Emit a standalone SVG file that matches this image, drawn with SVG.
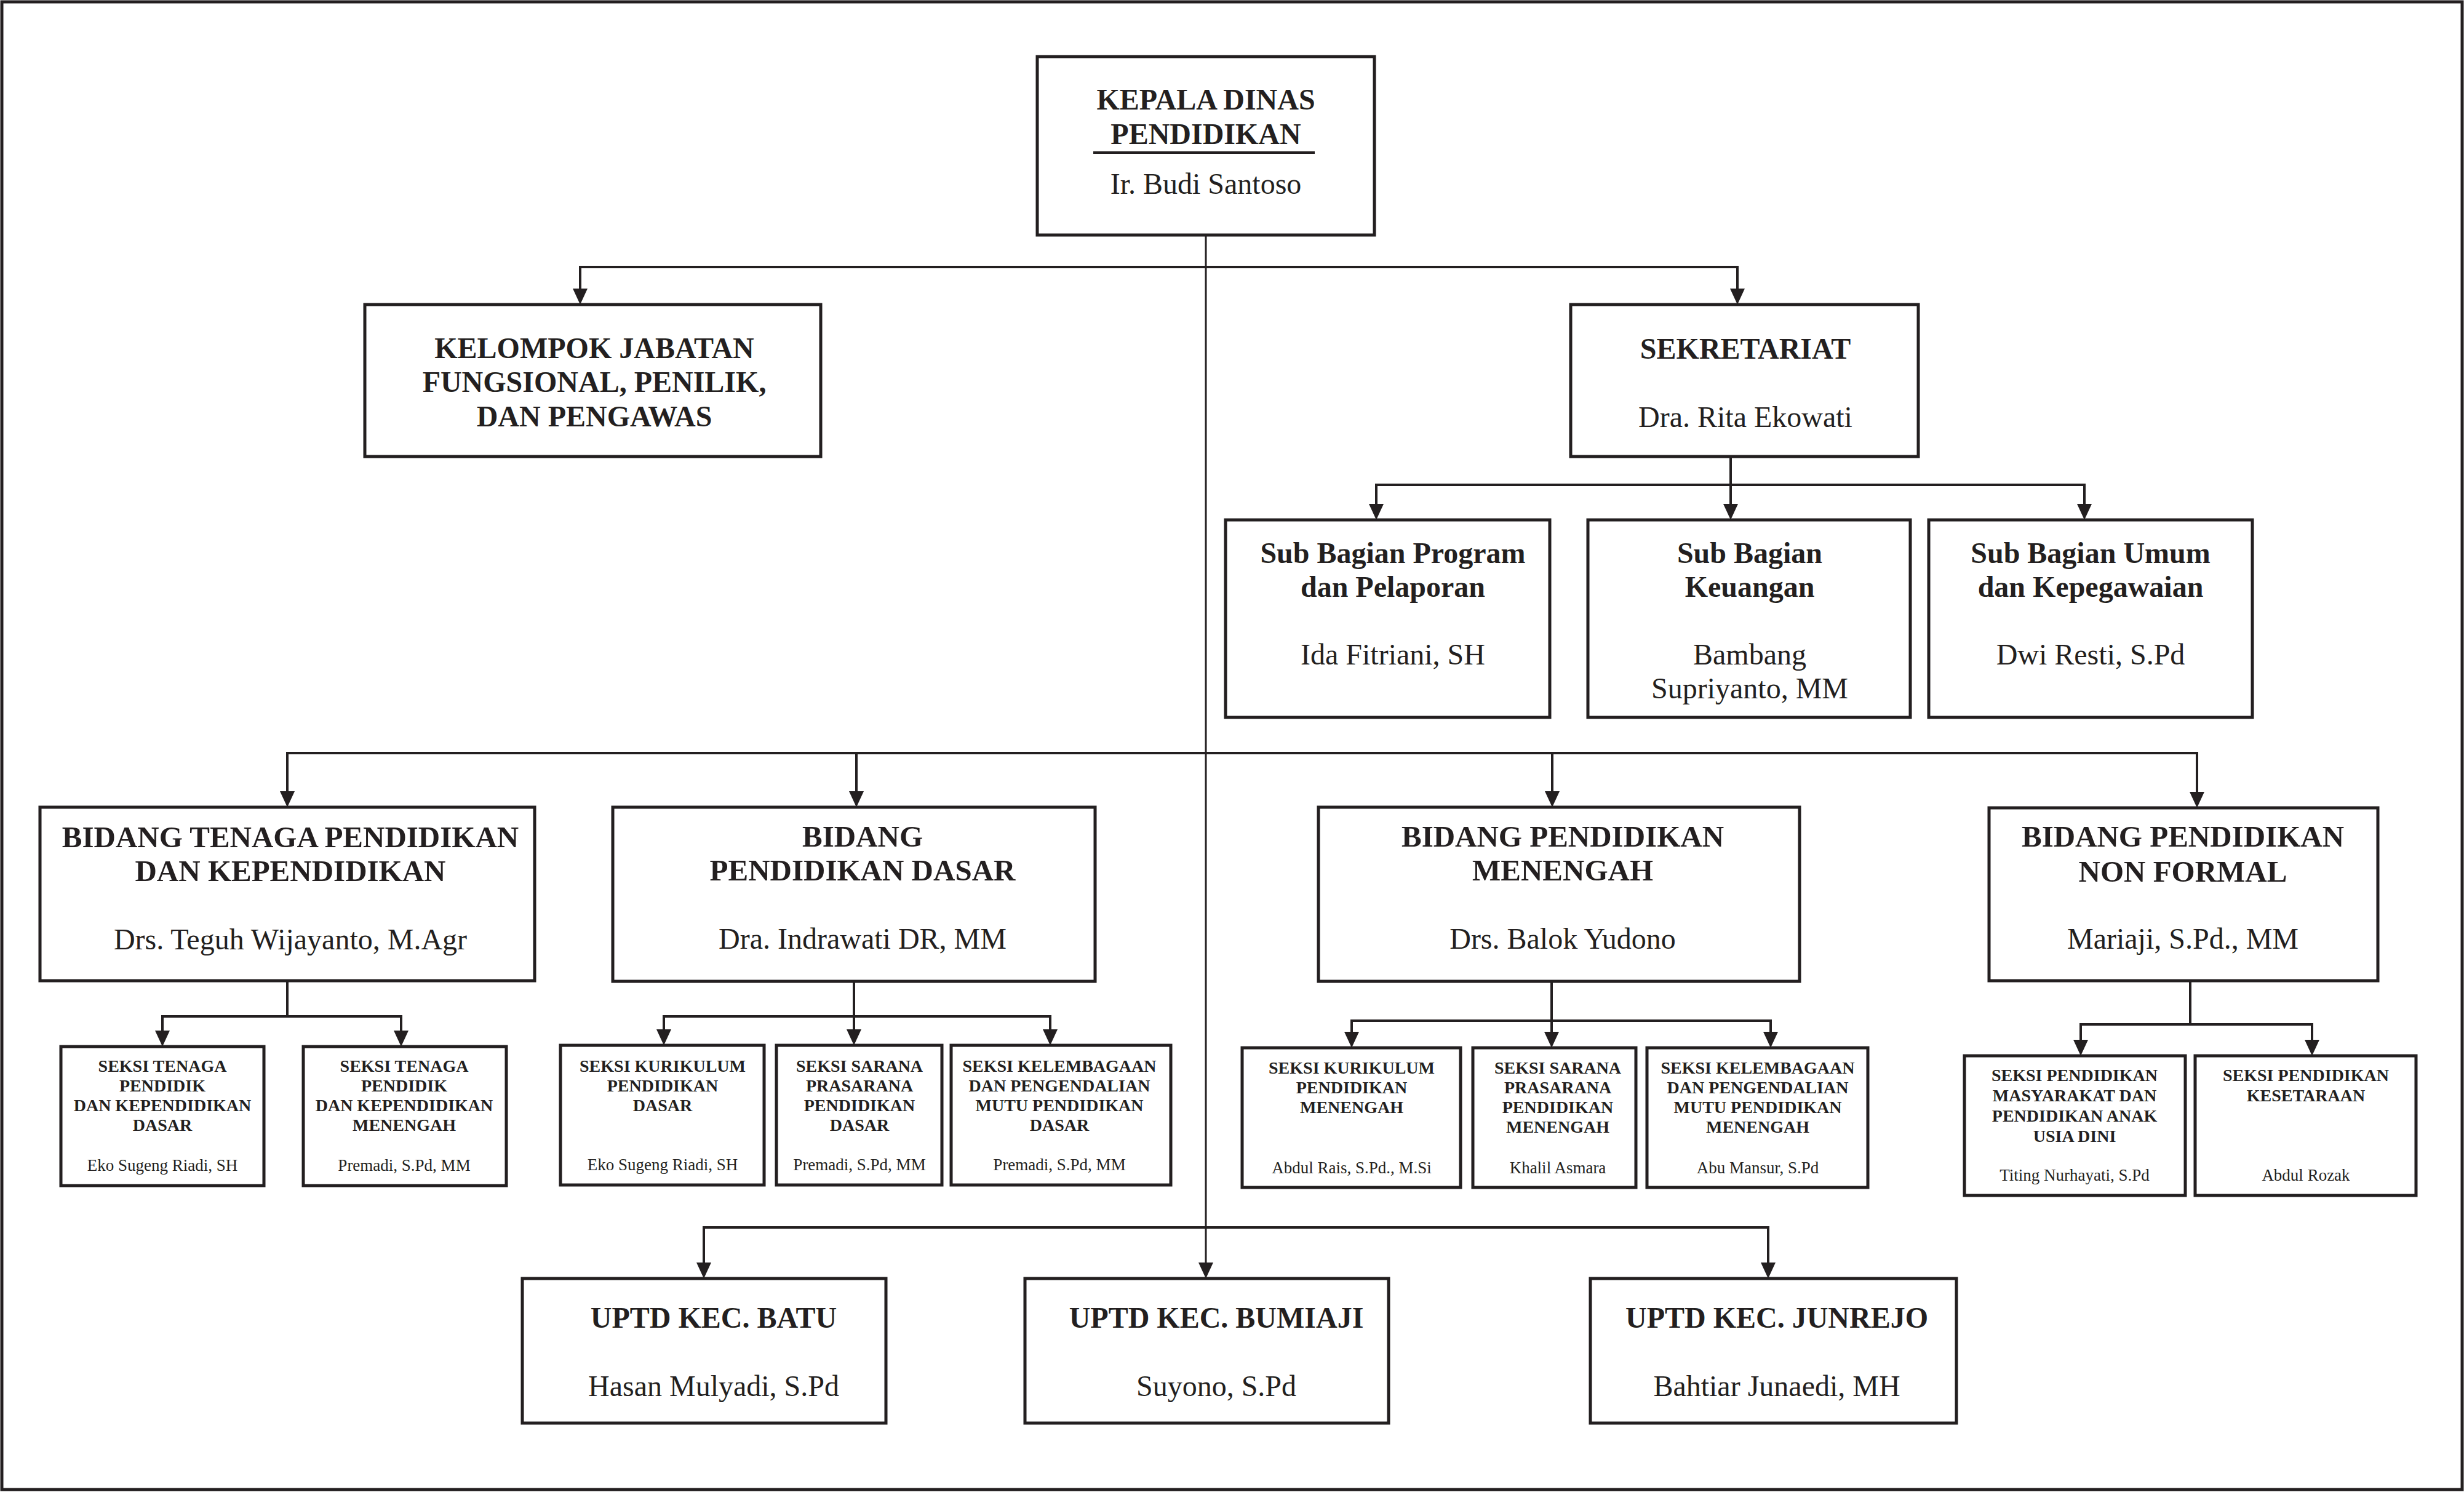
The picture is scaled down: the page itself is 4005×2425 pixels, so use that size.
<svg xmlns="http://www.w3.org/2000/svg" width="4005" height="2425" viewBox="0 0 4005 2425">
<defs>
<style>
text{font-family:"Liberation Serif","Times New Roman",serif;fill:#231f20;text-anchor:middle}
.b{font-weight:bold}
.h48{font-size:48px}
.h49{font-size:49px}
.s28{font-size:28px}
.s27{font-size:27px}
.box{fill:#fff;stroke:#231f20;stroke-width:5}
.con{fill:none;stroke:#231f20;stroke-width:4}
.main{fill:none;stroke:#231f20;stroke-width:3}
</style>
<marker id="arr" viewBox="0 0 26 24" refX="0" refY="12" markerWidth="26" markerHeight="24" markerUnits="userSpaceOnUse" orient="auto">
<path d="M0,0 L26,12 L0,24 z" fill="#231f20"/>
</marker>
</defs>
<rect x="0" y="0" width="4005" height="2425" fill="#fff"/>
<rect id="frame" x="3" y="3" width="3999" height="2418" fill="none" stroke="#231f20" stroke-width="5"/>

<g id="connectors">
<path class="main" d="M1960,382 V2052" marker-end="url(#arr)"/>
<path class="con" d="M943,469 V434 H2824 V469" marker-end="url(#arr)"/>
<path class="con" d="M943,434 V469" marker-end="url(#arr)"/>
<path class="con" d="M2813,742 V819" marker-end="url(#arr)"/>
<path class="con" d="M2237,819 V788 H3388 V819" marker-end="url(#arr)"/>
<path class="con" d="M2237,788 V819" marker-end="url(#arr)"/>
<path class="con" d="M467,1286 V1224 H3571 V1287" marker-end="url(#arr)"/>
<path class="con" d="M467,1224 V1286" marker-end="url(#arr)"/>
<path class="con" d="M1392,1224 V1286" marker-end="url(#arr)"/>
<path class="con" d="M2523,1224 V1286" marker-end="url(#arr)"/>
<path class="con" d="M467,1594 V1652"/>
<path class="con" d="M264,1675 V1652 H652 V1675" marker-end="url(#arr)"/>
<path class="con" d="M264,1652 V1675" marker-end="url(#arr)"/>
<path class="con" d="M1388,1595 V1673" marker-end="url(#arr)"/>
<path class="con" d="M1079,1673 V1652 H1707 V1673" marker-end="url(#arr)"/>
<path class="con" d="M1079,1652 V1673" marker-end="url(#arr)"/>
<path class="con" d="M2522,1595 V1677" marker-end="url(#arr)"/>
<path class="con" d="M2197,1677 V1659 H2878 V1677" marker-end="url(#arr)"/>
<path class="con" d="M2197,1659 V1677" marker-end="url(#arr)"/>
<path class="con" d="M3560,1594 V1665"/>
<path class="con" d="M3382,1690 V1665 H3758 V1690" marker-end="url(#arr)"/>
<path class="con" d="M3382,1665 V1690" marker-end="url(#arr)"/>
<path class="con" d="M1144,2052 V1995 H2874 V2052" marker-end="url(#arr)"/>
<path class="main" d="M1144,1995 V2052" marker-end="url(#arr)"/>
</g>

<g id="kepala">
<rect class="box" x="1686" y="92" width="548" height="290"/>
<text class="b h48" x="1960" y="178">KEPALA DINAS</text>
<text class="b h48" x="1960" y="234">PENDIDIKAN</text>
<rect x="1777" y="246" width="360" height="4" fill="#231f20"/>
<text class="h48" x="1960" y="315">Ir. Budi Santoso</text>
</g>

<g id="kelompok">
<rect class="box" x="593" y="495" width="741" height="247"/>
<text class="b h48" x="966" y="582">KELOMPOK JABATAN</text>
<text class="b h48" x="966" y="637">FUNGSIONAL, PENILIK,</text>
<text class="b h48" x="966" y="693">DAN PENGAWAS</text>
</g>

<g id="sekretariat">
<rect class="box" x="2553" y="495" width="565" height="247"/>
<text class="b h48" x="2837" y="583">SEKRETARIAT</text>
<text class="h48" x="2837" y="694">Dra. Rita Ekowati</text>
</g>

<g id="subbag-program">
<rect class="box" x="1992" y="845" width="527" height="321"/>
<text class="b h48" x="2264" y="915">Sub Bagian Program</text>
<text class="b h48" x="2264" y="970">dan Pelaporan</text>
<text class="h48" x="2264" y="1080">Ida Fitriani, SH</text>
</g>

<g id="subbag-keuangan">
<rect class="box" x="2581" y="845" width="524" height="321"/>
<text class="b h48" x="2844" y="915">Sub Bagian</text>
<text class="b h48" x="2844" y="970">Keuangan</text>
<text class="h48" x="2844" y="1080">Bambang</text>
<text class="h48" x="2844" y="1135">Supriyanto, MM</text>
</g>

<g id="subbag-umum">
<rect class="box" x="3135" y="845" width="526" height="321"/>
<text class="b h48" x="3398" y="915">Sub Bagian Umum</text>
<text class="b h48" x="3398" y="970">dan Kepegawaian</text>
<text class="h48" x="3398" y="1080">Dwi Resti, S.Pd</text>
</g>

<g id="bidang-tenaga">
<rect class="box" x="65" y="1312" width="804" height="282"/>
<text class="b h49" x="472" y="1377">BIDANG TENAGA PENDIDIKAN</text>
<text class="b h49" x="472" y="1432">DAN KEPENDIDIKAN</text>
<text class="h48" x="472" y="1543">Drs. Teguh Wijayanto, M.Agr</text>
</g>

<g id="bidang-dasar">
<rect class="box" x="996" y="1312" width="784" height="283"/>
<text class="b h49" x="1402" y="1376">BIDANG</text>
<text class="b h49" x="1402" y="1431">PENDIDIKAN DASAR</text>
<text class="h48" x="1402" y="1542">Dra. Indrawati DR, MM</text>
</g>

<g id="bidang-menengah">
<rect class="box" x="2143" y="1312" width="782" height="283"/>
<text class="b h49" x="2540" y="1376">BIDANG PENDIDIKAN</text>
<text class="b h49" x="2540" y="1431">MENENGAH</text>
<text class="h48" x="2540" y="1542">Drs. Balok Yudono</text>
</g>

<g id="bidang-nonformal">
<rect class="box" x="3233" y="1313" width="632" height="281"/>
<text class="b h49" x="3548" y="1376">BIDANG PENDIDIKAN</text>
<text class="b h49" x="3548" y="1433">NON FORMAL</text>
<text class="h48" x="3548" y="1542">Mariaji, S.Pd., MM</text>
</g>

<g id="seksi-tenaga-dasar">
<rect class="box" x="99" y="1701" width="330" height="226"/>
<text class="b s28" x="264" y="1742">SEKSI TENAGA</text>
<text class="b s28" x="264" y="1774">PENDIDIK</text>
<text class="b s28" x="264" y="1806">DAN KEPENDIDIKAN</text>
<text class="b s28" x="264" y="1838">DASAR</text>
<text class="s27" x="264" y="1903">Eko Sugeng Riadi, SH</text>
</g>

<g id="seksi-tenaga-menengah">
<rect class="box" x="493" y="1701" width="330" height="226"/>
<text class="b s28" x="657" y="1742">SEKSI TENAGA</text>
<text class="b s28" x="657" y="1774">PENDIDIK</text>
<text class="b s28" x="657" y="1806">DAN KEPENDIDIKAN</text>
<text class="b s28" x="657" y="1838">MENENGAH</text>
<text class="s27" x="657" y="1903">Premadi, S.Pd, MM</text>
</g>

<g id="seksi-kurikulum-dasar">
<rect class="box" x="911" y="1699" width="331" height="227"/>
<text class="b s28" x="1077" y="1742">SEKSI KURIKULUM</text>
<text class="b s28" x="1077" y="1774">PENDIDIKAN</text>
<text class="b s28" x="1077" y="1806">DASAR</text>
<text class="s27" x="1077" y="1902">Eko Sugeng Riadi, SH</text>
</g>

<g id="seksi-sarana-dasar">
<rect class="box" x="1262" y="1699" width="269" height="227"/>
<text class="b s28" x="1397" y="1742">SEKSI SARANA</text>
<text class="b s28" x="1397" y="1774">PRASARANA</text>
<text class="b s28" x="1397" y="1806">PENDIDIKAN</text>
<text class="b s28" x="1397" y="1838">DASAR</text>
<text class="s27" x="1397" y="1902">Premadi, S.Pd, MM</text>
</g>

<g id="seksi-kelembagaan-dasar">
<rect class="box" x="1546" y="1699" width="357" height="227"/>
<text class="b s28" x="1722" y="1742">SEKSI KELEMBAGAAN</text>
<text class="b s28" x="1722" y="1774">DAN PENGENDALIAN</text>
<text class="b s28" x="1722" y="1806">MUTU PENDIDIKAN</text>
<text class="b s28" x="1722" y="1838">DASAR</text>
<text class="s27" x="1722" y="1902">Premadi, S.Pd, MM</text>
</g>

<g id="seksi-kurikulum-menengah">
<rect class="box" x="2019" y="1703" width="355" height="227"/>
<text class="b s28" x="2197" y="1745">SEKSI KURIKULUM</text>
<text class="b s28" x="2197" y="1777">PENDIDIKAN</text>
<text class="b s28" x="2197" y="1809">MENENGAH</text>
<text class="s27" x="2197" y="1907">Abdul Rais, S.Pd., M.Si</text>
</g>

<g id="seksi-sarana-menengah">
<rect class="box" x="2394" y="1703" width="265" height="227"/>
<text class="b s28" x="2532" y="1745">SEKSI SARANA</text>
<text class="b s28" x="2532" y="1777">PRASARANA</text>
<text class="b s28" x="2532" y="1809">PENDIDIKAN</text>
<text class="b s28" x="2532" y="1841">MENENGAH</text>
<text class="s27" x="2532" y="1907">Khalil Asmara</text>
</g>

<g id="seksi-kelembagaan-menengah">
<rect class="box" x="2677" y="1703" width="359" height="227"/>
<text class="b s28" x="2857" y="1745">SEKSI KELEMBAGAAN</text>
<text class="b s28" x="2857" y="1777">DAN PENGENDALIAN</text>
<text class="b s28" x="2857" y="1809">MUTU PENDIDIKAN</text>
<text class="b s28" x="2857" y="1841">MENENGAH</text>
<text class="s27" x="2857" y="1907">Abu Mansur, S.Pd</text>
</g>

<g id="seksi-paud">
<rect class="box" x="3193" y="1716" width="359" height="227"/>
<text class="b s28" x="3372" y="1757">SEKSI PENDIDIKAN</text>
<text class="b s28" x="3372" y="1790">MASYARAKAT DAN</text>
<text class="b s28" x="3372" y="1823">PENDIDIKAN ANAK</text>
<text class="b s28" x="3372" y="1856">USIA DINI</text>
<text class="s27" x="3372" y="1919">Titing Nurhayati, S.Pd</text>
</g>

<g id="seksi-kesetaraan">
<rect class="box" x="3568" y="1716" width="359" height="227"/>
<text class="b s28" x="3748" y="1757">SEKSI PENDIDIKAN</text>
<text class="b s28" x="3748" y="1790">KESETARAAN</text>
<text class="s27" x="3748" y="1919">Abdul Rozak</text>
</g>

<g id="uptd-batu">
<rect class="box" x="849" y="2078" width="591" height="235"/>
<text class="b h48" x="1160" y="2158">UPTD KEC. BATU</text>
<text class="h48" x="1160" y="2269">Hasan Mulyadi, S.Pd</text>
</g>

<g id="uptd-bumiaji">
<rect class="box" x="1666" y="2078" width="591" height="235"/>
<text class="b h48" x="1977" y="2158">UPTD KEC. BUMIAJI</text>
<text class="h48" x="1977" y="2269">Suyono, S.Pd</text>
</g>

<g id="uptd-junrejo">
<rect class="box" x="2585" y="2078" width="595" height="235"/>
<text class="b h48" x="2888" y="2158">UPTD KEC. JUNREJO</text>
<text class="h48" x="2888" y="2269">Bahtiar Junaedi, MH</text>
</g>
</svg>
